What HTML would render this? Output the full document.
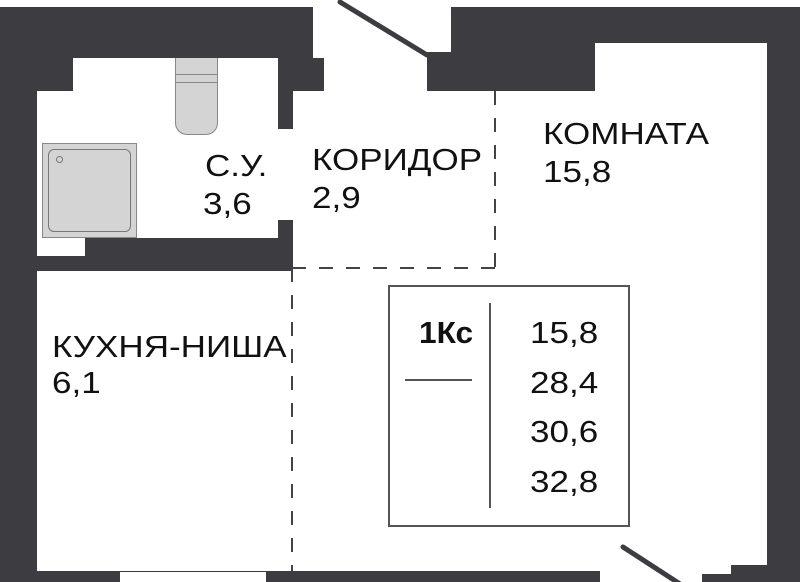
<!DOCTYPE html><html><head><style>
body{margin:0;width:800px;height:582px;background:#fff;position:relative;overflow:hidden;font-family:"Liberation Sans",sans-serif;color:#111}
.w{position:absolute;background:#3d3c40}
.t{position:absolute;font-size:31px;line-height:1;white-space:nowrap;transform:scaleX(1.13);transform-origin:0 0}
</style></head><body>
<div class="w" style="left:0;top:7px;width:313px;height:51px"></div>
<div class="w" style="left:0;top:7px;width:37px;height:575px"></div>
<div class="w" style="left:37px;top:58px;width:36px;height:33px"></div>
<div class="w" style="left:278px;top:58px;width:46px;height:33px"></div>
<div class="w" style="left:278px;top:58px;width:15px;height:71px"></div>
<div class="w" style="left:278px;top:220px;width:15px;height:51px"></div>
<div class="w" style="left:85px;top:238px;width:208px;height:33px"></div>
<div class="w" style="left:37px;top:256px;width:256px;height:15px"></div>
<div style="position:absolute;left:175px;top:58px;width:43px;height:77px;background:#d4d4d4;border:1px solid #888;border-top:none;border-radius:0 0 12px 12px;box-sizing:border-box"></div>
<div style="position:absolute;left:175px;top:74px;width:43px;height:9px;border-top:1px solid #888;border-bottom:1px solid #888;box-sizing:border-box"></div>
<div style="position:absolute;left:42px;top:143px;width:95px;height:95px;background:#d4d4d4;border:1px solid #888;box-sizing:border-box"></div>
<div style="position:absolute;left:48px;top:149px;width:83px;height:83px;border:1px solid #777;border-radius:6px;box-sizing:border-box"></div>
<div style="position:absolute;left:56px;top:156px;width:5px;height:5px;border:1px solid #777;border-radius:50%"></div>
<div class="w" style="left:451px;top:7px;width:349px;height:36px"></div>
<div class="w" style="left:427px;top:52px;width:168px;height:39px"></div>
<div class="w" style="left:451px;top:43px;width:144px;height:9px"></div>
<div class="w" style="left:767px;top:7px;width:33px;height:575px"></div>
<div class="w" style="left:731px;top:565px;width:69px;height:17px"></div>
<div class="w" style="left:702px;top:574px;width:98px;height:8px"></div>
<div class="w" style="left:0;top:571px;width:600px;height:11px"></div>
<div style="position:absolute;left:120px;top:572px;width:146px;height:10px;background:#fff"></div>
<svg style="position:absolute;left:0;top:0" width="800" height="582">
<line x1="340" y1="2" x2="427" y2="55" stroke="#3d3c40" stroke-width="5" stroke-linecap="round"/>
<line x1="623" y1="547" x2="680" y2="584" stroke="#3d3c40" stroke-width="5" stroke-linecap="round"/>
<g stroke="#444" stroke-width="2" fill="none" stroke-dasharray="14,13">
<line x1="495" y1="91" x2="495" y2="268"/>
<line x1="292" y1="268" x2="495" y2="268"/>
<line x1="292" y1="268" x2="292" y2="571"/>
</g>
<rect x="389" y="286" width="240" height="240" fill="none" stroke="#555" stroke-width="2"/>
<line x1="490" y1="303" x2="490" y2="508" stroke="#555" stroke-width="2"/>
<line x1="405" y1="380" x2="472" y2="380" stroke="#555" stroke-width="2"/>
</svg>
<div class="t" style="left:543px;top:118px">КОМНАТА</div>
<div class="t" style="left:543px;top:156px">15,8</div>
<div class="t" style="left:312px;top:144px">КОРИДОР</div>
<div class="t" style="left:312px;top:182px">2,9</div>
<div class="t" style="left:205px;top:150px">С.У.</div>
<div class="t" style="left:203px;top:188px">3,6</div>
<div class="t" style="left:52px;top:331px">КУХНЯ-НИША</div>
<div class="t" style="left:52px;top:367px">6,1</div>
<div class="t" style="left:419px;top:317px;font-weight:bold;transform:scaleX(1.02)">1Кс</div>
<div class="t" style="left:530px;top:317px">15,8</div>
<div class="t" style="left:530px;top:367px">28,4</div>
<div class="t" style="left:530px;top:416px">30,6</div>
<div class="t" style="left:530px;top:466px">32,8</div>
</body></html>
